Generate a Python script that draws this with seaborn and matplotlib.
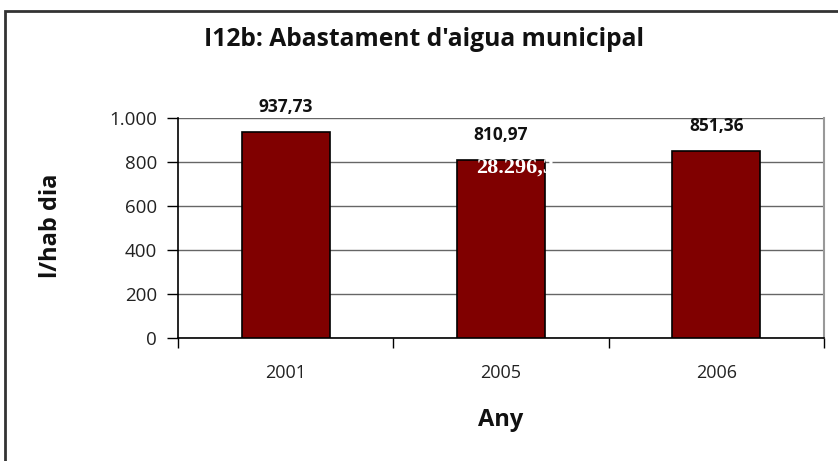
import matplotlib
matplotlib.use("Agg")
import matplotlib.pyplot as plt
import seaborn as sns
import pandas as pd
from matplotlib.patches import Rectangle
from matplotlib.ticker import FuncFormatter, FixedLocator

years = ["2001", "2005", "2006"]
values = [937.73, 810.97, 851.36]
value_labels = ["937,73", "810,97", "851,36"]
y_ticks = [0, 200, 400, 600, 800, 1000]

sns.set_style("white")
plt.rcParams["font.family"] = ["Open Sans", "DejaVu Sans"]

W, H = 838, 461
fig = plt.figure(figsize=(W / 100, H / 100), dpi=100)
ax = fig.add_axes([178 / W, 1 - 338 / H, (824 - 178) / W, (338 - 118) / H])

df = pd.DataFrame({"Any": years, "val": values})
sns.barplot(data=df, x="Any", y="val", color="#800000", edgecolor="black",
            linewidth=1.2, width=0.41, saturation=1, ax=ax, zorder=3)
ax.set_xlabel("")
ax.set_ylabel("")

ax.set_xlim(-0.5, 2.5)
ax.set_ylim(0, 1000)
ax.yaxis.set_major_locator(FixedLocator(y_ticks))
ax.yaxis.set_major_formatter(FuncFormatter(lambda v, p: f"{int(v):,}".replace(",", ".")))
ax.yaxis.grid(True, color="#666666", linewidth=1, zorder=0)
ax.set_axisbelow(True)

ax.set_xticks([-0.5, 0.5, 1.5, 2.5])
ax.set_xticklabels([])
ax.set_xticks([0, 1, 2], minor=True)
ax.set_xticklabels(years, minor=True)
ax.tick_params(axis="x", which="major", direction="out", length=7, width=1, color="black", bottom=True)
ax.tick_params(axis="x", which="minor", length=0, pad=19, labelsize=13, labelcolor="#222222")
ax.tick_params(axis="y", direction="out", length=8, width=1, color="black", left=True,
               labelsize=13.5, labelcolor="#222222", pad=7)

for s in ["left", "bottom"]:
    ax.spines[s].set_color("black")
    ax.spines[s].set_linewidth(1.2)
ax.spines["top"].set_visible(False)
ax.spines["right"].set_color("#999999")
ax.spines["right"].set_linewidth(1.5)

for i, (v, lab) in enumerate(zip(values, value_labels)):
    ax.annotate(lab, (i, v), xytext=(0, 11), textcoords="offset points",
                ha="center", va="bottom", fontsize=12.5, fontweight="bold", color="#111111")

ax.text(0.884, 773, "28.296,3", ha="left", va="center", color="white",
        fontsize=16, fontweight="bold", fontfamily="Liberation Serif", zorder=5)

fig.text(501 / W, 1 - 420 / H, "Any", ha="center", va="center",
         fontsize=17, fontweight="bold", color="#111111")
fig.text(51 / W, 1 - 226 / H, "l/hab dia", ha="center", va="center", rotation=90,
         fontsize=17, fontweight="bold", color="#111111")

fig.text(424 / W, 1 - 40 / H, "I12b: Abastament d'aigua municipal", ha="center", va="center",
         fontsize=17.7, fontweight="bold", color="#111111")

fig.patches.append(Rectangle((5 / W, -0.1), 1.2, 1 - 11 / H + 0.1, transform=fig.transFigure,
                             fill=False, edgecolor="#333333", linewidth=2))

fig.savefig("out.png", dpi=100, facecolor="white")
